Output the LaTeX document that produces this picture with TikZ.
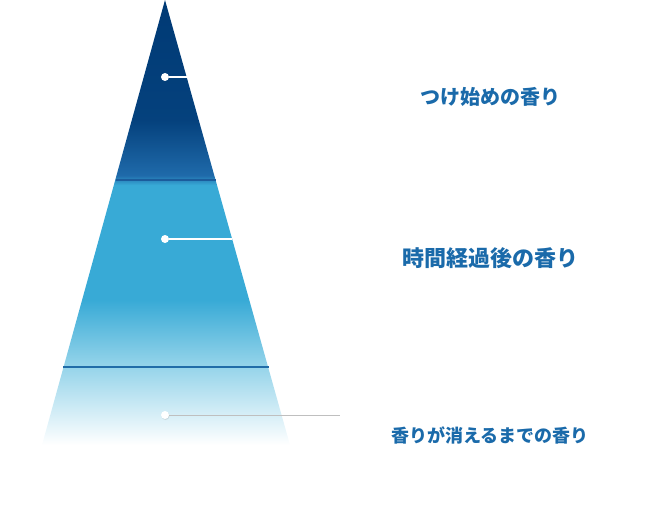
\documentclass[tikz,border=0pt]{standalone}
\usepackage{fontspec}
\usetikzlibrary{shadows}
\newfontfamily\jpfont{Noto Sans CJK JP}
\definecolor{navy}{HTML}{003A75}
\definecolor{midblue}{HTML}{1F6AAA}
\definecolor{cyanblue}{HTML}{38AAD6}
\definecolor{lightcyan}{HTML}{8CD0E8}
\definecolor{labelblue}{HTML}{1A6AAA}
\definecolor{bandline}{HTML}{1B5C9C}
\pgfdeclareverticalshading{pyramid}{100bp}{color(0bp)=(white); color(25bp)=(white);
  color(34.6bp)=(lightcyan); color(41.3bp)=(cyanblue); color(54.2bp)=(cyanblue);
  color(55.3bp)=(midblue); color(61.5bp)=(navy!85!midblue); color(75bp)=(navy); color(100bp)=(navy)}
\tikzset{
  dot/.style={circle,fill=white,inner sep=0pt,minimum size=8pt},
  label/.style={text=labelblue,anchor=center},
}
\begin{document}
\begin{tikzpicture}[x=1pt,y=-1pt]
  \useasboundingbox (0,0) rectangle (664,527);
  % pyramid
  \coordinate (apex) at (165,0);
  \shade[shading=pyramid] (apex) -- (290,445) -- (42,445) -- cycle;
  % band lines
  \draw[bandline,line width=1.2pt] (115.5,180) -- (215.5,180);
  \draw[bandline!80!cyanblue,line width=1.2pt] (63,367) -- (268.5,367);
  % markers
  \node[dot] (top) at (165,77) {};
  \node[dot] (mid) at (165,239) {};
  \node[dot,drop shadow={opacity=0.2,shadow xshift=0.5pt,shadow yshift=-1pt}] (low) at (165,415) {};
  \coordinate (topend) at (188,77);
  \coordinate (midend) at (232,239);
  \coordinate (lowend) at (340,415);
  \draw[white,line width=1.2pt] (top) -- (topend);
  \draw[white,line width=1.2pt] (mid) -- (midend);
  \draw[black!25,line width=1pt] (low) -- (lowend);
  % labels
  \node[label,font=\jpfont\bfseries\fontsize{20}{24}\selectfont] (l1) at (490,97) {つけ始めの香り};
  \node[label,font=\jpfont\bfseries\fontsize{22}{26}\selectfont] (l2) at (490,258) {時間経過後の香り};
  \node[label,font=\jpfont\bfseries\fontsize{18}{22}\selectfont] (l3) at (490,435) {香りが消えるまでの香り};
\end{tikzpicture}
\end{document}
